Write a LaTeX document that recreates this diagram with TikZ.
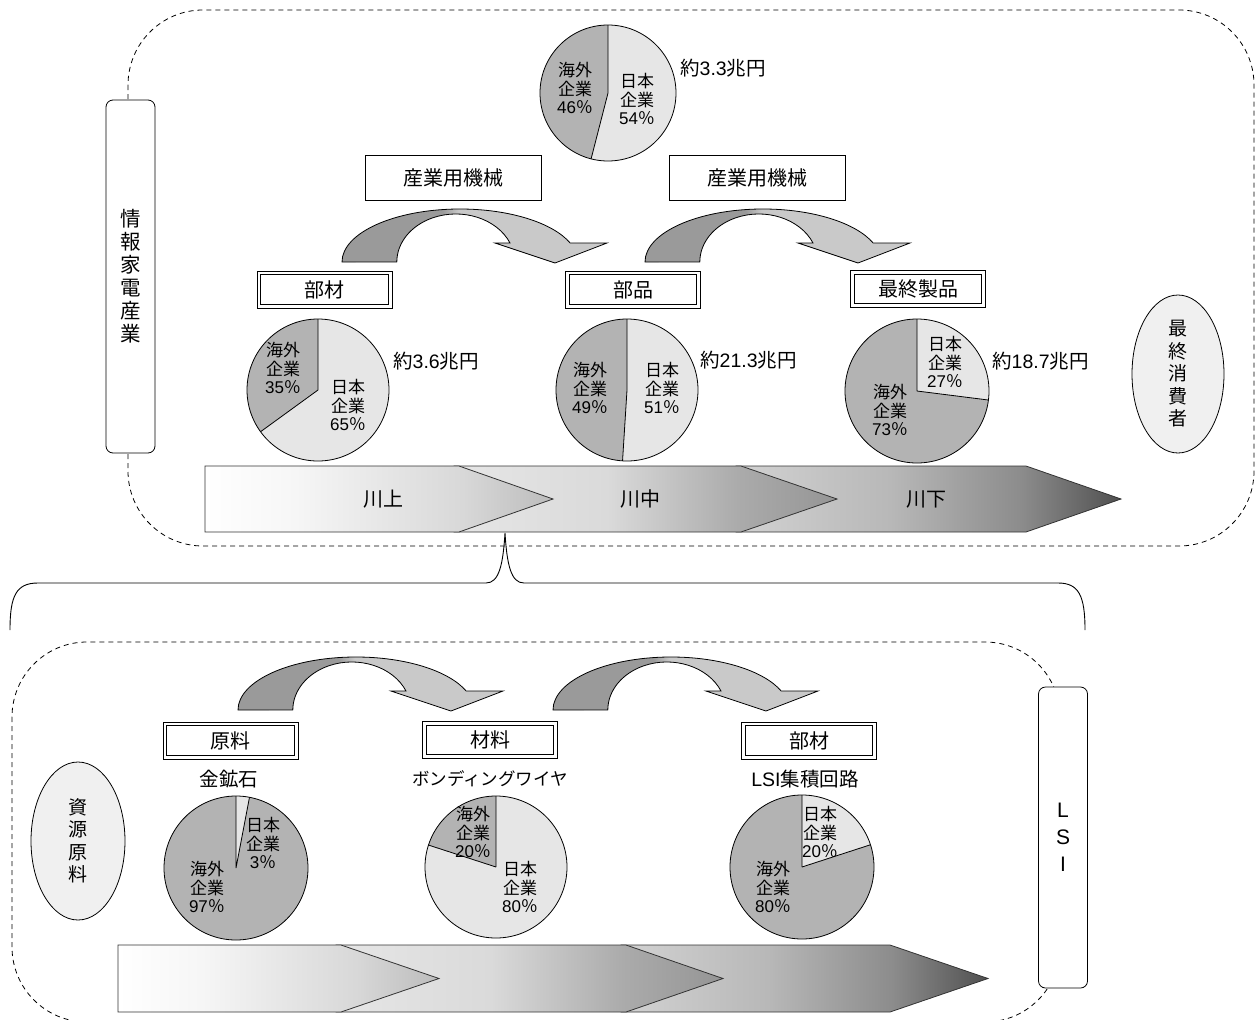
\documentclass[tikz,border=0pt]{standalone}
\usepackage{fontspec}
\setmainfont{Noto Sans CJK JP}
\newfontfamily\latinsans{Liberation Sans}
\usetikzlibrary{shapes.geometric}

\definecolor{jpfill}{HTML}{E6E6E6}
\definecolor{osfill}{HTML}{B3B3B3}
\definecolor{ovalfill}{HTML}{F0F0F0}
\definecolor{arcdark}{HTML}{9A9A9A}
\definecolor{arclight}{HTML}{C9C9C9}
\definecolor{bandline}{HTML}{333333}
\definecolor{bA0}{HTML}{FFFFFF}
\definecolor{bA1}{HTML}{F6F6F6}
\definecolor{bA2}{HTML}{D8D8D8}
\definecolor{bA3}{HTML}{BCBCBC}
\definecolor{bB0}{HTML}{E6E6E6}
\definecolor{bB1}{HTML}{DADADA}
\definecolor{bB2}{HTML}{ABABAB}
\definecolor{bB3}{HTML}{959595}
\definecolor{bC0}{HTML}{D2D2D2}
\definecolor{bC1}{HTML}{B8B8B8}
\definecolor{bC2}{HTML}{8C8C8C}
\definecolor{bC3}{HTML}{505050}

% curved process arrows: dark rising half, light falling half
\pgfdeclarehorizontalshading{bendshade}{100bp}{color(0bp)=(arcdark); color(25bp)=(arcdark); color(44bp)=(arcdark); color(47bp)=(arclight); color(75bp)=(arclight); color(100bp)=(arclight)}
% chevron segments of the value-chain band
\pgfdeclarehorizontalshading{bandA}{100bp}{color(0bp)=(bA0); color(25bp)=(bA0); color(38bp)=(bA1); color(62bp)=(bA2); color(75bp)=(bA3); color(100bp)=(bA3)}
\pgfdeclarehorizontalshading{bandB}{100bp}{color(0bp)=(bB0); color(25bp)=(bB0); color(45bp)=(bB1); color(62bp)=(bB2); color(75bp)=(bB3); color(100bp)=(bB3)}
\pgfdeclarehorizontalshading{bandC}{100bp}{color(0bp)=(bC0); color(25bp)=(bC0); color(45bp)=(bC1); color(62bp)=(bC2); color(75bp)=(bC3); color(100bp)=(bC3)}

\newcommand\num[1]{{\latinsans #1}}

\tikzset{
  frame/.style={draw=black, dash pattern=on 5pt off 4pt, line width=0.8pt, rounded corners=75pt},
  brace/.style={draw=black, line width=0.9pt},
  pieedge/.style={draw=black, line width=0.8pt},
  piering/.style={circle, draw=black, line width=0.8pt, inner sep=0pt, outer sep=0pt},
  pietext/.style={align=center, font=\fontsize{17}{18.5}\selectfont, inner sep=0pt},
  sumtext/.style={anchor=west, font=\fontsize{19.5}{22}\selectfont, inner sep=0pt},
  titletext/.style={font=\fontsize{19.5}{22}\selectfont, inner sep=0pt},
  machinebox/.style={draw=black, line width=0.8pt, fill=white, minimum width=176pt, minimum height=45pt, inner sep=0pt, font=\fontsize{20}{24}\selectfont},
  stagebox/.style={draw=black, line width=0.8pt, fill=white, minimum width=135pt, minimum height=37pt, inner sep=0pt, outer sep=0pt, font=\fontsize{20}{24}\selectfont},
  stageinner/.style={draw=black, line width=0.8pt},
  sidebox/.style={draw=black, line width=0.8pt, fill=white, rounded corners=7pt, minimum width=49pt, inner sep=0pt, align=center},
  ovalbox/.style={ellipse, draw=black, line width=0.8pt, fill=ovalfill, inner sep=0pt, align=center, font=\fontsize{19}{22.5}\selectfont},
  bandedge/.style={draw=bandline, line width=0.8pt},
  bandtext/.style={font=\fontsize{20}{24}\selectfont, inner sep=0pt},
  arcedge/.style={draw=black, line width=0.8pt, shading=bendshade}
}

% share pie: name, centre x, centre y, radius, Japanese share in percent
\newcommand\sharepie[5]{%
  \fill[jpfill] (#2,#3) -- ++(90:#4) arc[start angle=90, delta angle={-3.6*#5}, radius=#4] -- cycle;
  \fill[osfill] (#2,#3) -- ++(90:#4) arc[start angle=90, delta angle={360-3.6*#5}, radius=#4] -- cycle;
  \draw[pieedge] (#2,#3) -- ++(90:#4) (#2,#3) -- ++({90-3.6*#5}:#4);
  \node[piering, minimum size={2*#4*1pt}] (#1) at (#2,#3) {};}

% double-ruled stage label: name, x, y, text
\newcommand\stagelabel[4]{%
  \node[stagebox] (#1) at (#2,#3) {#4};
  \draw[stageinner] ([shift={(3.8pt,3.8pt)}]#1.south west) rectangle ([shift={(-3.8pt,-3.8pt)}]#1.north east);}

% bent arrow, shifted from its reference position
\newcommand\bendarrow[2]{%
  \begin{scope}[shift={(#1,#2)}]
    \shadedraw[arcedge] (342,-262) arc[start angle=180, end angle=21, x radius=118, y radius=53]
      -- (607,-243) -- (555,-263) -- (495,-243) -- (510,-243)
      arc[start angle=23.3, end angle=180, x radius=59, y radius=48] -- cycle;
  \end{scope}}

% one chevron: shading, left x, body end x, tip x, top y, bottom y
\newcommand\chevronpiece[6]{%
  \shadedraw[shading=#1, bandedge] (#2,#5) -- (#3,#5) -- (#4,{(#5+#6)/2}) -- (#3,#6) -- (#2,#6) -- cycle;}

\begin{document}
\begin{tikzpicture}[x=1pt,y=1pt]
\useasboundingbox (0,0) rectangle (1256,-1020);

% industry groupings
\draw[frame] (128,-10) rectangle (1254,-546);
\draw[frame] (12,-642) rectangle (1060,-1022);

% brace linking the upstream stage to the lower chain
\draw[brace] (10,-630) .. controls (10,-596) and (16,-583) .. (38,-583) -- (486,-583)
  .. controls (499,-583) and (503,-565) .. (505,-533)
  .. controls (507,-565) and (511,-583) .. (524,-583) -- (1058,-583)
  .. controls (1079,-583) and (1085,-596) .. (1085,-630);

% side labels
\node[sidebox, minimum height=353pt, font=\fontsize{20.5}{23}\selectfont] (appliance) at (130.5,-276.5) {情\\報\\家\\電\\産\\業};
\node[sidebox, minimum height=301pt, font=\latinsans\fontsize{21}{27}\selectfont] (lsi) at (1063,-837.5) {L\\S\\I};
\node[ovalbox, minimum width=92pt, minimum height=158pt] (consumer) at (1178,-374) {最\\終\\消\\費\\者};
\node[ovalbox, minimum width=94pt, minimum height=158pt] (resource) at (78,-841) {資\\源\\原\\料};

% machinery suppliers
\node[machinebox] (machL) at (453,-177.5) {産業用機械};
\node[machinebox] (machR) at (757,-177.5) {産業用機械};

% process arrows
\bendarrow{0}{0}
\bendarrow{303}{0}
\bendarrow{-104}{-448}
\bendarrow{211}{-448}

% stage labels
\stagelabel{stBuzai}{324.5}{-289.5}{部材}
\stagelabel{stBuhin}{633}{-289.5}{部品}
\stagelabel{stFinal}{918}{-289}{最終製品}
\stagelabel{stGenryo}{230.5}{-740.5}{原料}
\stagelabel{stZairyo}{490}{-740}{材料}
\stagelabel{stBuzaiL}{809}{-740.5}{部材}

% market share pies
\sharepie{pieMach}{608}{-93}{68}{54}
\sharepie{pieBuzai}{318}{-390}{71}{65}
\sharepie{pieBuhin}{627}{-390}{71}{51}
\sharepie{pieFinal}{917}{-391}{72}{27}
\sharepie{pieGold}{236}{-868}{72}{3}
\sharepie{pieWire}{496}{-867}{71}{80}
\sharepie{pieLSI}{802}{-867}{72}{20}

\node[pietext] (mOs) at (575,-88) {海外\\企業\\\num{46}％};
\node[pietext] (mJp) at (637,-99) {日本\\企業\\\num{54}％};
\node[pietext] (bzOs) at (283,-368) {海外\\企業\\\num{35}％};
\node[pietext] (bzJp) at (348,-405) {日本\\企業\\\num{65}％};
\node[pietext] (bhOs) at (590,-388) {海外\\企業\\\num{49}％};
\node[pietext] (bhJp) at (662,-388) {日本\\企業\\\num{51}％};
\node[pietext] (fnJp) at (945,-362) {日本\\企業\\\num{27}％};
\node[pietext] (fnOs) at (890,-410) {海外\\企業\\\num{73}％};
\node[pietext] (gdJp) at (263,-843) {日本\\企業\\\num{3}％};
\node[pietext] (gdOs) at (207,-887) {海外\\企業\\\num{97}％};
\node[pietext] (wrOs) at (473,-832) {海外\\企業\\\num{20}％};
\node[pietext] (wrJp) at (520,-887) {日本\\企業\\\num{80}％};
\node[pietext] (lsJp) at (820,-832) {日本\\企業\\\num{20}％};
\node[pietext] (lsOs) at (773,-887) {海外\\企業\\\num{80}％};

% market sizes
\node[sumtext] (sumMach) at (680,-68) {約\num{3.3}兆円};
\node[sumtext] (sumBuzai) at (393,-361) {約\num{3.6}兆円};
\node[sumtext] (sumBuhin) at (700,-360) {約\num{21.3}兆円};
\node[sumtext] (sumFinal) at (992,-361) {約\num{18.7}兆円};

% product names
\node[titletext] (tGold) at (229,-779) {金鉱石};
\node[titletext, font=\fontsize{17.5}{21}\selectfont] (tWire) at (490,-779) {ボンディングワイヤ};
\node[titletext] (tLSI) at (805,-779) {\num{LSI}集積回路};

% value-chain bands (drawn back to front)
\chevronpiece{bandC}{736}{1026}{1121}{-466}{-532}
\chevronpiece{bandB}{454}{741}{837}{-466}{-532}
\chevronpiece{bandA}{205}{459}{553}{-466}{-532}
\node[bandtext] (up) at (383,-499) {川上};
\node[bandtext] (mid) at (640,-499) {川中};
\node[bandtext] (down) at (926,-499) {川下};

\chevronpiece{bandC}{621}{890}{988}{-945}{-1012}
\chevronpiece{bandB}{336}{626}{723}{-945}{-1012}
\chevronpiece{bandA}{118}{341}{439}{-945}{-1012}
\end{tikzpicture}
\end{document}
